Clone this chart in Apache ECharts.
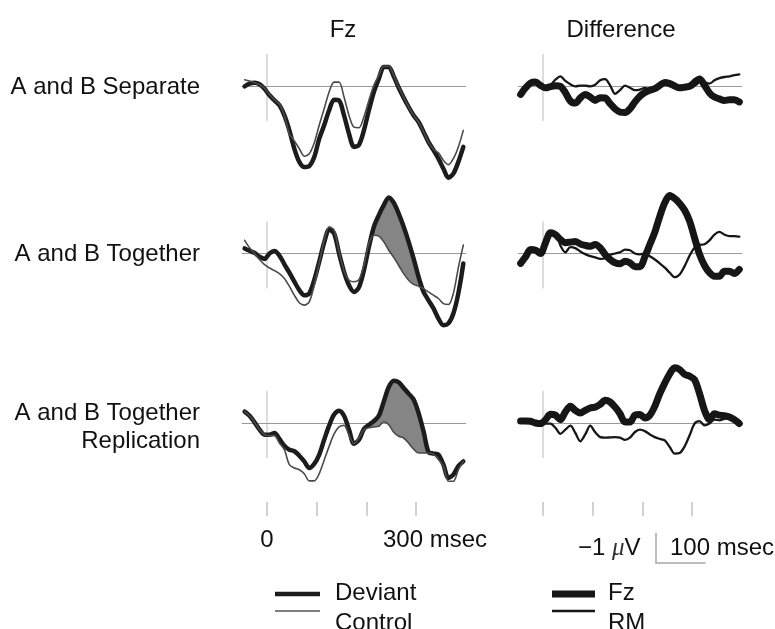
<!DOCTYPE html>
<html><head><meta charset="utf-8">
<script src="https://cdn.jsdelivr.net/npm/echarts@6/dist/echarts.min.js"></script>
<style>html,body{margin:0;padding:0;background:#fff}#c{width:775px;height:629px}</style>
</head><body><div id="c"></div>
<script>
// time (ms) of each sample
const times = [-45,-35,-25,-15,-5,5,15,25,35,45,55,65,75,85,95,105,115,125,135,145,155,165,175,185,195,205,215,225,235,245,255,265,275,285,295,305,315,325,335,345,355,365,375,385,395];

// Fz ERPs (µV, negative plotted up)
const sepDeviant = [0.01,-0.08,-0.11,-0.06,0.09,0.31,0.48,0.64,0.98,1.48,2.09,2.53,2.70,2.67,2.37,1.76,1.31,0.81,0.46,0.48,0.98,1.59,2.03,1.96,1.48,0.81,0.20,-0.24,-0.63,-0.63,-0.32,0.06,0.39,0.70,0.98,1.20,1.53,1.87,2.14,2.42,2.76,3.06,2.92,2.53,2.03];
const sepControl = [-0.21,-0.17,-0.11,-0.04,0.07,0.28,0.46,0.61,0.98,1.59,1.83,2.09,2.34,2.26,1.90,1.31,0.76,0.20,-0.13,-0.13,0.37,0.98,1.37,1.39,1.03,0.48,-0.02,-0.36,-0.66,-0.66,-0.36,0.03,0.37,0.70,0.98,1.20,1.53,1.87,2.11,2.23,2.48,2.62,2.42,2.03,1.48];
const togDeviant = [-0.17,-0.09,-0.02,0.11,0.18,0.00,-0.08,0.07,0.36,0.64,0.94,1.22,1.39,1.33,0.89,0.28,-0.36,-0.80,-0.67,0.00,0.61,1.06,1.28,1.13,0.56,-0.22,-0.89,-1.28,-1.61,-1.87,-1.69,-1.33,-0.89,-0.39,0.17,0.78,1.28,1.56,1.83,2.17,2.39,2.33,2.00,1.33,0.33];
const togControl = [-0.44,-0.19,0.00,0.20,0.37,0.48,0.57,0.67,0.83,1.09,1.39,1.64,1.72,1.61,1.06,0.33,-0.44,-0.89,-0.78,-0.06,0.58,0.89,0.94,0.87,0.39,-0.33,-0.61,-0.58,-0.39,-0.11,0.13,0.40,0.67,0.89,1.03,1.09,1.17,1.28,1.39,1.50,1.67,1.70,1.33,0.47,-0.28];
const repDeviant = [-0.38,-0.24,-0.02,0.22,0.39,0.39,0.33,0.53,0.76,0.89,0.94,1.09,1.28,1.50,1.36,1.06,0.56,0.09,-0.28,-0.41,-0.24,0.22,0.69,0.56,0.20,0.06,-0.06,-0.24,-0.72,-1.20,-1.41,-1.36,-1.17,-0.98,-0.78,-0.33,0.28,0.97,1.02,1.06,1.39,1.83,1.72,1.44,1.28];
const repControl = [-0.38,-0.24,-0.02,0.22,0.39,0.42,0.42,0.67,0.89,1.39,1.50,1.56,1.69,1.93,1.93,1.69,1.24,0.78,0.36,0.13,0.08,0.40,0.69,0.50,0.22,0.16,0.13,0.11,-0.04,0.06,0.31,0.44,0.50,0.67,0.87,1.00,1.00,1.00,1.04,1.22,1.44,1.94,1.94,1.56,1.28];

// Difference waves (µV)
const sepFz = [0.28,0.06,-0.10,-0.13,-0.02,0.06,0.02,-0.01,0.01,0.22,0.50,0.57,0.40,0.28,0.37,0.48,0.39,0.40,0.59,0.76,0.87,0.88,0.76,0.53,0.34,0.22,0.14,0.09,-0.02,-0.12,-0.08,0.00,0.06,0.04,0.01,-0.10,-0.23,-0.02,0.23,0.37,0.43,0.48,0.46,0.46,0.53];
const sepRM = [0.23,0.01,-0.10,-0.13,-0.03,0.01,-0.04,-0.21,-0.32,-0.17,-0.06,0.01,-0.01,-0.01,0.01,-0.04,-0.19,-0.23,-0.02,0.26,0.14,-0.01,0.06,0.14,0.12,0.06,0.12,0.12,0.01,-0.10,-0.11,-0.03,0.00,-0.01,-0.08,-0.23,-0.28,-0.13,-0.08,-0.19,-0.26,-0.30,-0.32,-0.36,-0.39];
const togFz = [0.33,0.11,-0.13,-0.11,0.00,-0.36,-0.69,-0.63,-0.47,-0.36,-0.38,-0.40,-0.32,-0.27,-0.24,-0.30,-0.19,0.03,0.20,0.31,0.34,0.26,0.31,0.44,0.44,0.11,-0.30,-0.71,-1.24,-1.69,-1.93,-1.83,-1.67,-1.44,-1.08,-0.52,0.03,0.40,0.64,0.76,0.76,0.59,0.59,0.67,0.53];
const togRM = [0.28,0.07,-0.13,-0.08,0.04,-0.19,-0.58,-0.66,-0.27,-0.04,-0.21,-0.18,-0.07,0.02,0.09,0.13,0.18,0.16,0.04,0.00,-0.04,-0.13,-0.11,0.00,0.03,0.00,0.09,0.20,0.33,0.47,0.64,0.79,0.70,0.42,0.07,-0.19,-0.29,-0.31,-0.44,-0.63,-0.72,-0.63,-0.58,-0.58,-0.56];
const repFz = [-0.07,-0.07,-0.06,0.00,0.02,-0.11,-0.29,-0.26,-0.11,-0.37,-0.56,-0.42,-0.33,-0.42,-0.50,-0.53,-0.62,-0.76,-0.70,-0.53,-0.31,-0.03,-0.03,-0.26,-0.28,-0.17,-0.26,-0.56,-0.98,-1.33,-1.64,-1.84,-1.78,-1.62,-1.56,-1.44,-0.98,-0.42,-0.11,-0.31,-0.26,-0.24,-0.20,-0.11,0.02];
const repRM = [-0.03,-0.03,-0.03,0.00,0.03,0.02,0.02,0.16,0.36,0.22,0.09,0.33,0.61,0.38,0.09,0.31,0.47,0.49,0.48,0.47,0.49,0.56,0.49,0.30,0.22,0.27,0.38,0.47,0.53,0.58,0.80,1.02,1.00,0.78,0.41,0.02,-0.06,0.08,0.02,-0.11,-0.09,-0.14,-0.17,-0.09,0.04];

// texts
const rowLabels = ['A and B Separate', 'A and B Together', 'A and B Together\nReplication'];
const columnTitles = ['Fz', 'Difference'];
const timeTickLabels = ['0', '300 msec'];
const scaleLabels = ['\u22121 ', '\u03bc', 'V', '100 msec'];
const legendLeftNames = ['Deviant', 'Control'];
const legendRightNames = ['Fz', 'RM'];
const shadeWindows = [null, [200, 320], [200, 330]];

// ---- layout ----
const PX_PER_MS = 0.497, PX_PER_UV = 30;
const ZERO_X = [267, 543];
const BASE_Y = [86, 253.5, 423];
const X_MIN = -50, X_MAX = 400, Y_TOP = -1.05, Y_BOT = 1.15;
const FONT = '24px "Liberation Sans", Arial, sans-serif';

const panels = [
  {row:0, col:0, thick:sepDeviant, thin:sepControl, names:legendLeftNames},
  {row:1, col:0, thick:togDeviant, thin:togControl, names:legendLeftNames},
  {row:2, col:0, thick:repDeviant, thin:repControl, names:legendLeftNames},
  {row:0, col:1, thick:sepFz, thin:sepRM, names:legendRightNames},
  {row:1, col:1, thick:togFz, thin:togRM, names:legendRightNames},
  {row:2, col:1, thick:repFz, thin:repRM, names:legendRightNames}
];
const lineStyles = [
  {thick:{width:4.5, color:'#1c1c1c'}, thin:{width:1.6, color:'#4a4a4a'}},
  {thick:{width:7, color:'#161616'}, thin:{width:2.3, color:'#161616'}}
];

const grid = [], xAxis = [], yAxis = [], series = [];
const pair = arr => times.map((t, i) => [t, arr[i]]);

function shadeRenderer(dev, ctrl, win) {
  return function (params, api) {
    const idx = [];
    for (let i = 0; i < times.length; i++) {
      if (times[i] >= win[0] && times[i] <= win[1] && dev[i] < ctrl[i]) idx.push(i);
    }
    if (!idx.length) return;
    const i0 = idx[0], i1 = idx[idx.length - 1];
    const cross = (a, b) => {
      const da = dev[a] - ctrl[a], db = dev[b] - ctrl[b];
      const f = da / (da - db);
      return [times[a] + f * (times[b] - times[a]), dev[a] + f * (dev[b] - dev[a])];
    };
    const pts = [];
    if (i0 > 0 && dev[i0 - 1] >= ctrl[i0 - 1]) pts.push(cross(i0 - 1, i0));
    for (let i = i0; i <= i1; i++) pts.push([times[i], dev[i]]);
    if (i1 < times.length - 1 && dev[i1 + 1] >= ctrl[i1 + 1]) pts.push(cross(i1, i1 + 1));
    for (let i = i1; i >= i0; i--) pts.push([times[i], ctrl[i]]);
    return {type:'polygon', shape:{points: pts.map(p => api.coord(p))}, style:{fill:'#858585'}};
  };
}

panels.forEach((p, gi) => {
  grid.push({
    left: ZERO_X[p.col] + X_MIN * PX_PER_MS,
    width: (X_MAX - X_MIN) * PX_PER_MS,
    top: BASE_Y[p.row] + Y_TOP * PX_PER_UV,
    height: (Y_BOT - Y_TOP) * PX_PER_UV
  });
  xAxis.push({gridIndex:gi, type:'value', min:X_MIN, max:X_MAX,
    axisLine:{show:true, onZero:true, lineStyle:{color:'#9a9a9a', width:1.2}},
    axisTick:{show:false}, axisLabel:{show:false}, splitLine:{show:false}});
  yAxis.push({gridIndex:gi, type:'value', inverse:true, min:Y_TOP, max:Y_BOT,
    axisLine:{show:true, onZero:true, lineStyle:{color:'#d2d2d2', width:1.5}},
    axisTick:{show:false}, axisLabel:{show:false}, splitLine:{show:false}});
  const st = lineStyles[p.col];
  const win = p.col === 0 ? shadeWindows[p.row] : null;
  if (win) {
    series.push({type:'custom', xAxisIndex:gi, yAxisIndex:gi, z:1, silent:true,
      data:[[0, 0]], renderItem: shadeRenderer(p.thick, p.thin, win)});
  }
  series.push({type:'line', name:p.names[0], xAxisIndex:gi, yAxisIndex:gi, data:pair(p.thick),
    showSymbol:false, symbol:'none', smooth:0.3, clip:false, z:2, silent:true,
    lineStyle:{width:st.thick.width, color:st.thick.color, cap:'round', join:'round'}});
  series.push({type:'line', name:p.names[1], xAxisIndex:gi, yAxisIndex:gi, data:pair(p.thin),
    showSymbol:false, symbol:'none', smooth:0.3, clip:false, z:3, silent:true,
    lineStyle:{width:st.thin.width, color:st.thin.color, cap:'round', join:'round'}});
});

// time tick rows under each column (0..300 ms, every 100 ms)
[0, 1].forEach(col => {
  const gi = grid.length;
  grid.push({left: ZERO_X[col], width: 300 * PX_PER_MS, top: 470, height: 32});
  xAxis.push({gridIndex:gi, type:'value', min:0, max:300, interval:100,
    axisLine:{show:false}, axisLabel:{show:false}, splitLine:{show:false},
    axisTick:{show:true, length:14, lineStyle:{color:'#c4c4c4', width:1.5}}});
  yAxis.push({gridIndex:gi, type:'value', show:false});
});

function txt(x, y, text, align, extra) {
  return Object.assign({type:'text', x:x, y:y, silent:true,
    style:Object.assign({text:text, font:FONT, fill:'#111', align:align, verticalAlign:'middle',
      textAlign:align, textVerticalAlign:'middle', lineHeight:28}, extra || {})});
}
const graphic = [];
graphic.push(txt(343, 30, columnTitles[0], 'center'));
graphic.push(txt(621, 30, columnTitles[1], 'center'));
graphic.push(txt(200, 87, rowLabels[0], 'right'));
graphic.push(txt(200, 254, rowLabels[1], 'right'));
graphic.push(txt(200, 427, rowLabels[2], 'right'));
graphic.push(txt(ZERO_X[0], 540, timeTickLabels[0], 'center'));
graphic.push(txt(383, 540, timeTickLabels[1], 'left'));
graphic.push({type:'text', x:578, y:548, silent:true, style:{
  text:'{a|' + scaleLabels[0] + '}{m|' + scaleLabels[1] + '}{a|' + scaleLabels[2] + '}',
  align:'left', verticalAlign:'middle', textAlign:'left', textVerticalAlign:'middle', fill:'#111',
  rich:{a:{font:FONT, fill:'#111'}, m:{font:'italic 25px "Liberation Serif", serif', fill:'#333'}}}});
graphic.push(txt(670, 548, scaleLabels[3], 'left'));
// scale bar: 1 µV tall, 100 ms wide
graphic.push({type:'polyline', silent:true, shape:{points:[[656, 563 - PX_PER_UV], [656, 563], [656 + 100 * PX_PER_MS, 563]]},
  style:{stroke:'#a8a8a8', lineWidth:1.5, fill:null}});
// legends
const legendRows = [594, 611];
[[275, 320, legendLeftNames, 335, lineStyles[0]], [552, 595, legendRightNames, 608, lineStyles[1]]].forEach(L => {
  const [x1, x2, names, tx, st] = L;
  [st.thick, st.thin].forEach((s, k) => {
    graphic.push({type:'line', silent:true, shape:{x1:x1, y1:legendRows[k], x2:x2, y2:legendRows[k]},
      style:{stroke: k === 1 && st === lineStyles[0] ? '#555' : s.color, lineWidth:s.width}});
    graphic.push(txt(tx, k === 0 ? 593 : 623, names[k], 'left'));
  });
});

const chart = echarts.init(document.getElementById('c'), null, {renderer:'canvas'});
chart.setOption({animation:false, backgroundColor:'#fff', grid, xAxis, yAxis, series, graphic});
</script></body></html>
